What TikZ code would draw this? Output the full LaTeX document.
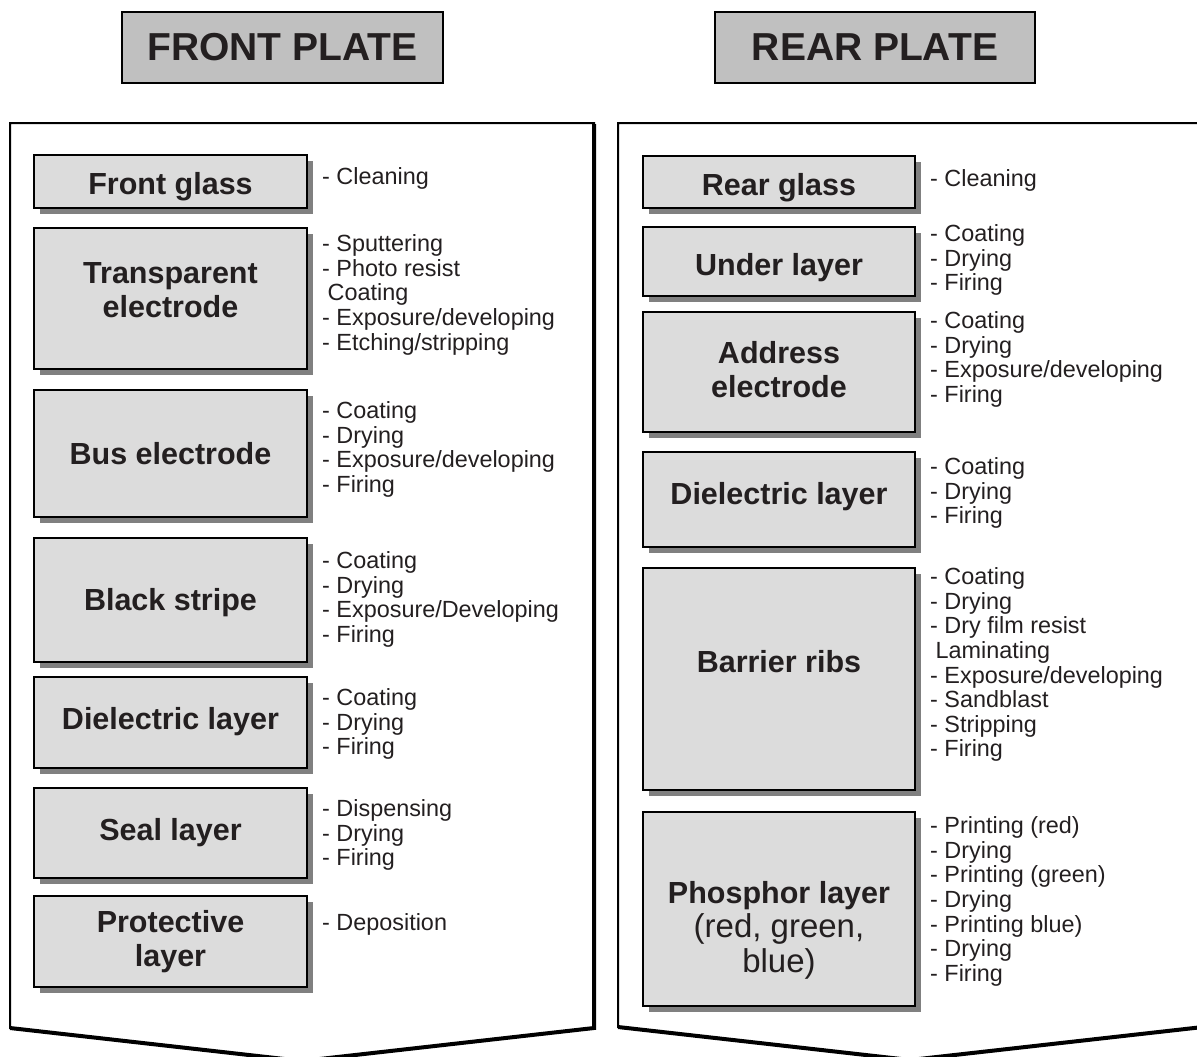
\documentclass[tikz,border=0pt]{standalone}
\usepackage{fontspec}
\setmainfont{Liberation Sans}
\usetikzlibrary{shadows}
\definecolor{boxfill}{HTML}{DCDCDC}
\definecolor{titlefill}{HTML}{C0C0C0}
\definecolor{shade}{HTML}{808080}
\definecolor{ink}{HTML}{231F20}
\tikzset{
  stepbox/.style={draw=black, line width=2pt, fill=boxfill, inner sep=0pt,
    drop shadow={shadow xshift=6pt, shadow yshift=-6pt, fill=shade, opacity=1}},
  boxlabel/.style={text=ink, inner sep=0pt, align=center,
    font=\fontsize{30.5}{34}\selectfont\bfseries},
  titlebox/.style={draw=black, line width=2pt, fill=titlefill, text=ink, inner sep=0pt,
    font=\fontsize{39}{40}\selectfont\bfseries},
  steplist/.style={anchor=north west, inner sep=0pt, align=left, text=ink,
    font=\fontsize{23.4}{24.6}\selectfont},
  panelthin/.style={line width=2pt, line join=miter},
  panelthick/.style={line width=4pt, line join=miter},
}
\begin{document}
\begin{tikzpicture}[x=1pt, y=-1pt]
\useasboundingbox (0,0) rectangle (1197,1057);
\fill[white] (0,0) rectangle (1197,1057);

% titles
\node[titlebox, minimum width=321pt, minimum height=71pt] (ftitle) at (282.5,47.5) {FRONT PLATE};
\node[titlebox, minimum width=320pt, minimum height=71pt] (rtitle) at (875,47.5) {REAR PLATE};

% panels
\draw[panelthin] (594,123) -- (10,123) -- (10,1028) -- (302,1061) -- (594,1028) -- cycle;
\draw[panelthick] (594,124) -- (594,1028) -- (302,1061) -- (10,1028);
\draw[panelthin] (1203,123) -- (618,123) -- (618,1027) -- (910,1060) -- (1203,1027) -- cycle;
\draw[panelthick] (1203,124) -- (1203,1027) -- (910,1060) -- (618,1027);

% front plate steps
\node[stepbox, minimum width=273pt, minimum height=53pt] (fg) at (170.5,181.5) {};
\node[stepbox, minimum width=273pt, minimum height=141pt] (te) at (170.5,298.5) {};
\node[stepbox, minimum width=273pt, minimum height=127pt] (be) at (170.5,453.5) {};
\node[stepbox, minimum width=273pt, minimum height=124pt] (bs) at (170.5,600) {};
\node[stepbox, minimum width=273pt, minimum height=91pt] (fdl) at (170.5,722.5) {};
\node[stepbox, minimum width=273pt, minimum height=90pt] (sl) at (170.5,833) {};
\node[stepbox, minimum width=273pt, minimum height=91pt] (pl) at (170.5,941.5) {};

\node[boxlabel] (fgt) at ([yshift=-5pt]fg.center) {Front glass};
\node[boxlabel] (tet) at ([yshift=8pt]te.center) {Transparent\\electrode};
\node[boxlabel] (bet) at (be.center) {Bus electrode};
\node[boxlabel] (bst) at ([yshift=-3pt]bs.center) {Black stripe};
\node[boxlabel] (fdlt) at ([yshift=1pt]fdl.center) {Dielectric layer};
\node[boxlabel] (slt) at (sl.center) {Seal layer};
\node[boxlabel] (plt) at (pl.center) {Protective\\layer};

\node[steplist] (fgl) at (322,167.5) {- Cleaning};
\node[steplist] (tel) at (322,234.5) {- Sputtering\\- Photo resist\\\hspace*{5.5pt}Coating\\- Exposure/developing\\- Etching/stripping};
\node[steplist] (bel) at (322,401.5) {- Coating\\- Drying\\- Exposure/developing\\- Firing};
\node[steplist] (bsl) at (322,551.5) {- Coating\\- Drying\\- Exposure/Developing\\- Firing};
\node[steplist] (fdll) at (322,688.5) {- Coating\\- Drying\\- Firing};
\node[steplist] (sll) at (322,799.5) {- Dispensing\\- Drying\\- Firing};
\node[steplist] (pll) at (322,913.5) {- Deposition};

% rear plate steps
\node[stepbox, minimum width=272pt, minimum height=52pt] (rg) at (779,182) {};
\node[stepbox, minimum width=272pt, minimum height=69pt] (ul) at (779,261.5) {};
\node[stepbox, minimum width=272pt, minimum height=120pt] (ae) at (779,372) {};
\node[stepbox, minimum width=272pt, minimum height=95pt] (rdl) at (779,499.5) {};
\node[stepbox, minimum width=272pt, minimum height=222pt] (br) at (779,679) {};
\node[stepbox, minimum width=272pt, minimum height=194pt] (ph) at (779,909) {};

\node[boxlabel] (rgt) at ([yshift=-6pt]rg.center) {Rear glass};
\node[boxlabel] (ult) at ([yshift=-6pt]ul.center) {Under layer};
\node[boxlabel] (aet) at ([yshift=2pt]ae.center) {Address\\electrode};
\node[boxlabel] (rdlt) at ([yshift=3pt]rdl.center) {Dielectric layer};
\node[boxlabel] (brt) at ([yshift=17pt]br.center) {Barrier ribs};
\node[boxlabel, font=\fontsize{33}{34.5}\selectfont] (pht) at ([yshift=-21pt]ph.center) {\fontsize{30.5}{34.5}\selectfont\textbf{Phosphor layer}\\(red, green,\\blue)};

\node[steplist] (rgl) at (930,169.5) {- Cleaning};
\node[steplist] (ull) at (930,224.5) {- Coating\\- Drying\\- Firing};
\node[steplist] (ael) at (930,311.5) {- Coating\\- Drying\\- Exposure/developing\\- Firing};
\node[steplist] (rdll) at (930,457.5) {- Coating\\- Drying\\- Firing};
\node[steplist] (brl) at (930,567.5) {- Coating\\- Drying\\- Dry film resist\\\hspace*{5.5pt}Laminating\\- Exposure/developing\\- Sandblast\\- Stripping\\- Firing};
\node[steplist] (phl) at (930,816.5) {- Printing (red)\\- Drying\\- Printing (green)\\- Drying\\- Printing blue)\\- Drying\\- Firing};
\end{tikzpicture}
\end{document}
